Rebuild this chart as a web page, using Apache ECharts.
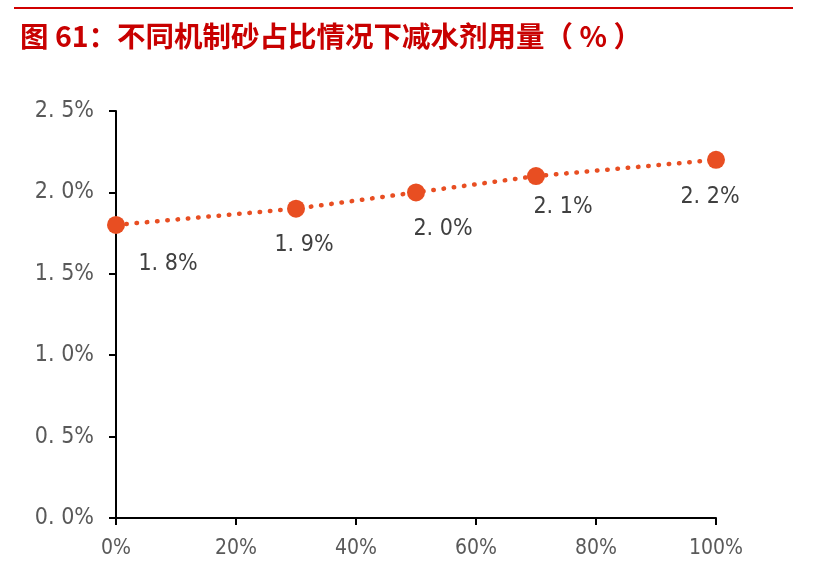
<!DOCTYPE html>
<html><head><meta charset="utf-8">
<script src="https://cdn.jsdelivr.net/npm/echarts@6/dist/echarts.min.js"></script>
<style>html,body{margin:0;padding:0;background:#fff}#c{width:823px;height:584px}</style>
</head><body><div id="c"></div>
<script>
const xValues = [0, 30, 50, 70, 100];
const yValues = [1.8, 1.9, 2.0, 2.1, 2.2];
const labelOffsets = [[52, 0], [8, -3], [27, -3], [27, -9], [-6, -2]];
const title = '图 61：不同机制砂占比情况下减水剂用量（ % ）';
const spaced = v => v.toFixed(1).replace('.', '. ') + '%';
const cond = '"DejaVu Sans Condensed", "DejaVu Sans", sans-serif';

const chart = echarts.init(document.getElementById('c'));
chart.setOption({
  animation: false,
  graphic: [
    { type: 'line', shape: { x1: 14, y1: 8, x2: 793, y2: 8 }, style: { stroke: '#D00000', lineWidth: 2 } },
    { type: 'text', x: 20, y: 36, style: { text: title, font: 'bold 28.5px "Noto Sans CJK SC"', fill: '#C80000', verticalAlign: 'middle' } }
  ],
  grid: { left: 116, right: 107, top: 111, bottom: 66 },
  xAxis: {
    type: 'value', min: 0, max: 100, interval: 20,
    axisLine: { lineStyle: { color: '#000', width: 2 } },
    axisTick: { show: true, length: 7, lineStyle: { color: '#000', width: 2 } },
    splitLine: { show: false },
    axisLabel: { margin: 20, color: '#595959', fontSize: 21, fontFamily: cond, formatter: v => v + '%' }
  },
  yAxis: {
    type: 'value', min: 0, max: 2.5, interval: 0.5,
    axisLine: { show: true, lineStyle: { color: '#000', width: 2 } },
    axisTick: { show: true, length: 7, lineStyle: { color: '#000', width: 2 } },
    splitLine: { show: false },
    axisLabel: { margin: 22, color: '#595959', fontSize: 23, fontFamily: cond, formatter: v => spaced(v) }
  },
  series: [{
    type: 'line',
    data: xValues.map((x, i) => ({
      value: [x, yValues[i]],
      label: { offset: labelOffsets[i] }
    })),
    symbol: 'circle', symbolSize: 18,
    itemStyle: { color: '#E84E22' },
    lineStyle: { color: '#E84E22', width: 4.5, type: [0.5, 9.8], cap: 'round' },
    label: {
      show: true, position: 'bottom', distance: 19,
      color: '#404040', fontSize: 23, fontFamily: cond,
      formatter: p => spaced(p.value[1])
    }
  }]
});
</script></body></html>
